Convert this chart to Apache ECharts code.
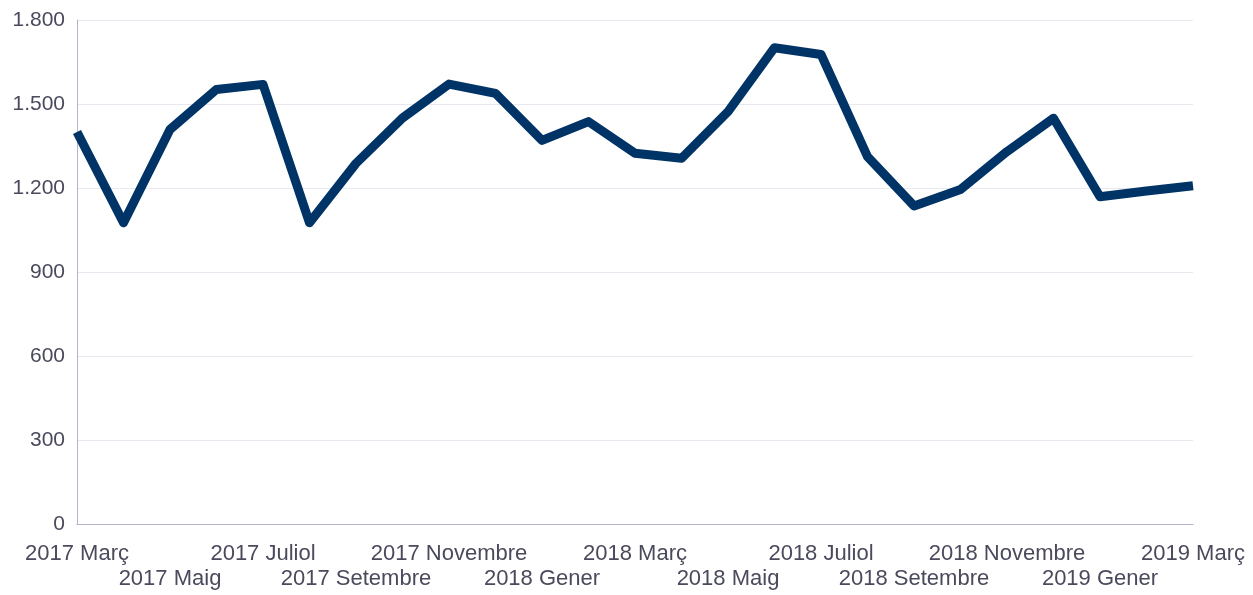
<!DOCTYPE html>
<html>
<head>
<meta charset="utf-8">
<script src="https://cdn.jsdelivr.net/npm/echarts@6/dist/echarts.min.js"></script>
<style>
html,body{margin:0;padding:0;background:#fff;}
#chart{width:1253px;height:595px;}
</style>
</head>
<body>
<div id="chart"></div>
<script>
const categories = [
  '2017 Març','2017 Abril','2017 Maig','2017 Juny','2017 Juliol','2017 Agost','2017 Setembre','2017 Octubre','2017 Novembre','2017 Desembre',
  '2018 Gener','2018 Febrer','2018 Març','2018 Abril','2018 Maig','2018 Juny','2018 Juliol','2018 Agost','2018 Setembre','2018 Octubre','2018 Novembre','2018 Desembre',
  '2019 Gener','2019 Febrer','2019 Març'
];
const values = [1400, 1076, 1409, 1552, 1570, 1076, 1288, 1450, 1571, 1538, 1370, 1437, 1324, 1306, 1473, 1701, 1677, 1312, 1136, 1195, 1330, 1449, 1169, 1189, 1208];
const yTicks = [0, 300, 600, 900, 1200, 1500, 1800];

const chart = echarts.init(document.getElementById('chart'), null, {renderer: 'canvas'});
const fmt = v => {
  const s = String(v);
  return s.length > 3 ? s.slice(0, s.length - 3) + '.' + s.slice(-3) : s;
};
const labelFont = {
  fontFamily: 'Liberation Sans, Arial, sans-serif',
  fontSize: 22,
  color: '#4a4a5c'
};
chart.setOption({
  animation: false,
  backgroundColor: '#ffffff',
  grid: {left: 77, right: 60, top: 20, bottom: 71, containLabel: false},
  xAxis: [{
    type: 'category',
    data: categories,
    boundaryGap: false,
    position: 'bottom',
    axisLine: {show: true, lineStyle: {color: '#b3b3c9', width: 1}},
    axisTick: {show: false},
    axisLabel: Object.assign({
      interval: (index) => index % 4 === 0,
      showMinLabel: true,
      showMaxLabel: true,
      hideOverlap: false,
      margin: 19
    }, labelFont),
    splitLine: {show: false}
  }, {
    type: 'category',
    data: categories,
    boundaryGap: false,
    position: 'bottom',
    axisLine: {show: false},
    axisTick: {show: false},
    axisLabel: Object.assign({
      interval: (index) => index % 4 === 2,
      hideOverlap: false,
      margin: 44
    }, labelFont),
    splitLine: {show: false}
  }],
  yAxis: {
    type: 'value',
    min: yTicks[0],
    max: yTicks[yTicks.length - 1],
    interval: 300,
    axisLine: {show: true, lineStyle: {color: '#b3b3c9', width: 1}},
    axisTick: {show: false},
    axisLabel: {
      margin: 12,
      fontFamily: 'Liberation Sans, Arial, sans-serif',
      fontSize: 21,
      color: '#4a4a5c',
      formatter: v => fmt(v)
    },
    splitLine: {show: true, lineStyle: {color: '#e8e8f0', width: 1}}
  },
  series: [{
    type: 'line',
    xAxisIndex: 0,
    data: values,
    symbol: 'none',
    smooth: false,
    lineStyle: {color: '#003366', width: 9, join: 'round', cap: 'butt'},
    itemStyle: {color: '#003366'}
  }]
});
</script>
</body>
</html>
